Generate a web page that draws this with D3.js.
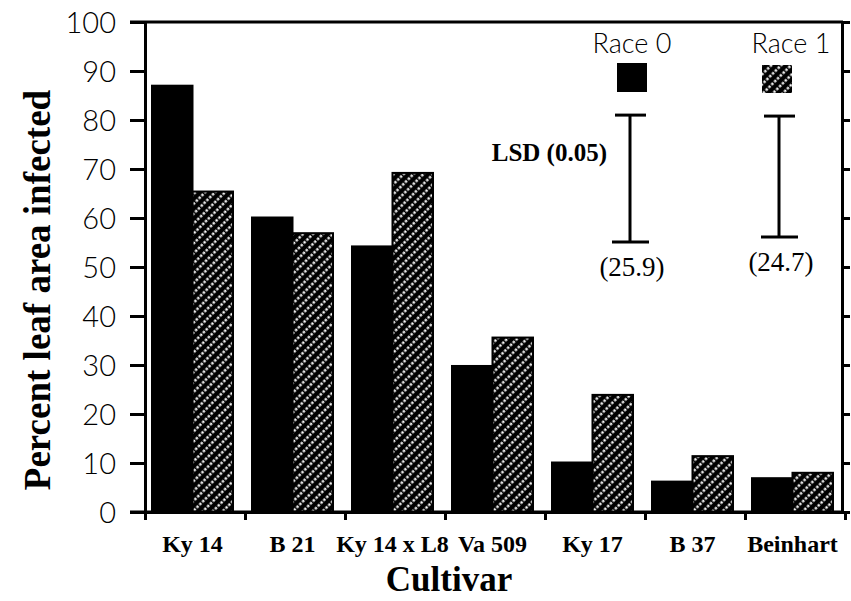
<!DOCTYPE html>
<html>
<head>
<meta charset="utf-8">
<script src="https://cdn.jsdelivr.net/npm/d3@7"></script>
<style>
  body { margin: 0; background: #fff; }
  svg { display: block; }
</style>
</head>
<body>
<div id="chart"></div>
<script>
// data
var cultivars = ["Ky 14", "B 21", "Ky 14 x L8", "Va 509", "Ky 17", "B 37", "Beinhart"];
var races = ["Race 0", "Race 1"];
var race0 = [87.0, 60.1, 54.2, 29.8, 10.1, 6.2, 6.9];
var race1 = [65.4, 56.9, 69.2, 35.6, 23.9, 11.4, 8.0];
var lsd = [25.9, 24.7];
var lsdTop = [81.0, 80.8];
var yTicks = [0, 10, 20, 30, 40, 50, 60, 70, 80, 90, 100];

var W = 851, H = 601;

var svg = d3.select("#chart")
  .append("svg")
  .attr("width", W)
  .attr("height", H);

// hatch fill: black with white dotted diagonals
var defs = svg.append("defs");
var pat = defs.append("pattern")
  .attr("id", "hatch")
  .attr("patternUnits", "userSpaceOnUse")
  .attr("width", 7)
  .attr("height", 8)
  .attr("patternTransform", "rotate(45)");
pat.append("rect").attr("width", 7).attr("height", 8).attr("fill", "#000");
pat.append("line")
  .attr("x1", 3.5).attr("y1", 0).attr("x2", 3.5).attr("y2", 8)
  .attr("stroke", "#fff")
  .attr("stroke-width", 2.3)
  .attr("stroke-dasharray", "2.4,1.6");

var y = d3.scaleLinear().domain([0, 100]).range([512, 22]);
var x = d3.scaleBand().domain(cultivars).range([145, 845]).padding(0);
var xs = d3.scaleBand().domain(races).range([7, 88]).padding(0);
var xEdge = d3.scaleLinear().domain([0, cultivars.length]).range([145, 845]);

var fills = ["#000", "url(#hatch)"];

// bars
var rows = cultivars.map(function(c, i) {
  return { cultivar: c, values: [race0[i], race1[i]] };
});

var groups = svg.selectAll("g.grp")
  .data(rows)
  .enter().append("g")
  .attr("class", "grp")
  .attr("transform", function(d) { return "translate(" + x(d.cultivar) + ",0)"; });

groups.selectAll("rect")
  .data(function(d) { return d.values.map(function(v, j) { return { race: races[j], v: v, j: j }; }); })
  .enter().append("rect")
  .attr("x", function(d) { return xs(d.race); })
  .attr("width", xs.bandwidth())
  .attr("y", function(d) { return y(d.v); })
  .attr("height", function(d) { return y(0) - y(d.v); })
  .attr("fill", function(d) { return fills[d.j]; })
  .attr("stroke", "#000")
  .attr("stroke-width", 2);

// left axis
var left = svg.append("g")
  .attr("transform", "translate(145,0)")
  .call(d3.axisLeft(y).tickValues(yTicks).tickSize(15).tickSizeOuter(0).tickPadding(14));
left.selectAll("text")
  .style("font-family", "Lato, 'DejaVu Sans', sans-serif")
  .style("font-weight", 300)
  .style("font-size", "29px")
  .attr("dy", "0.36em")
  .attr("fill", "#000");

// right axis
svg.append("g")
  .attr("transform", "translate(842,0)")
  .call(d3.axisRight(y).tickValues(yTicks).tickSize(8).tickSizeOuter(0).tickFormat(""));

// bottom axis (ticks at cultivar boundaries)
svg.append("g")
  .attr("transform", "translate(0,512)")
  .call(d3.axisBottom(xEdge).ticks(cultivars.length).tickSize(8).tickSizeOuter(0).tickFormat(""));

svg.selectAll(".domain, .tick line")
  .attr("stroke", "#000")
  .attr("stroke-width", 3);

// top and bottom border
svg.append("line")
  .attr("x1", 130).attr("x2", 843)
  .attr("y1", y(100)).attr("y2", y(100))
  .attr("stroke", "#000").attr("stroke-width", 3);
svg.append("line")
  .attr("x1", 130).attr("x2", 843)
  .attr("y1", y(0)).attr("y2", y(0))
  .attr("stroke", "#000").attr("stroke-width", 3);

// category labels
svg.selectAll("text.cat")
  .data(cultivars)
  .enter().append("text")
  .attr("class", "cat")
  .attr("x", function(c) { return x(c) + (xs.range()[0] + xs.range()[1]) / 2; })
  .attr("y", 552)
  .attr("text-anchor", "middle")
  .style("font-family", "'Liberation Serif', 'Times New Roman', serif")
  .style("font-weight", "bold")
  .style("font-size", "24px")
  .text(function(c) { return c; });

// axis titles
svg.append("text")
  .attr("x", 449).attr("y", 591)
  .attr("text-anchor", "middle")
  .style("font-family", "'Liberation Serif', 'Times New Roman', serif")
  .style("font-weight", "bold")
  .style("font-size", "35px")
  .text("Cultivar");

svg.append("text")
  .attr("transform", "translate(50,290) rotate(-90)")
  .attr("text-anchor", "middle")
  .style("font-family", "'Liberation Serif', 'Times New Roman', serif")
  .style("font-weight", "bold")
  .style("font-size", "37px")
  .text("Percent leaf area infected");

// legend
var legX = [632, 791];
var legSq = [[617, 63], [762, 65]];
races.forEach(function(r, i) {
  svg.append("text")
    .attr("x", legX[i]).attr("y", 53)
    .attr("text-anchor", "middle")
    .style("font-family", "Lato, 'DejaVu Sans', sans-serif")
    .style("font-weight", 300)
    .style("font-size", "27px")
    .text(r);
  svg.append("rect")
    .attr("x", legSq[i][0]).attr("y", legSq[i][1])
    .attr("width", 30).attr("height", 29 - i)
    .attr("fill", fills[i]);
});

// LSD bars
var lsdX = [630, 779];
lsd.forEach(function(v, i) {
  var top = y(lsdTop[i]), bot = y(lsdTop[i] - v);
  var g = svg.append("g").attr("stroke", "#000").attr("stroke-width", 3);
  g.append("line").attr("x1", lsdX[i]).attr("x2", lsdX[i]).attr("y1", top).attr("y2", bot);
  g.append("line").attr("x1", lsdX[i] - 15).attr("x2", lsdX[i] + 16).attr("y1", top).attr("y2", top);
  g.append("line").attr("x1", lsdX[i] - 18).attr("x2", lsdX[i] + 19).attr("y1", bot).attr("y2", bot);
  svg.append("text")
    .attr("x", lsdX[i] + 2).attr("y", bot + 34)
    .attr("text-anchor", "middle")
    .style("font-family", "'Liberation Serif', 'Times New Roman', serif")
    .style("font-size", "27px")
    .text("(" + v + ")");
});

svg.append("text")
  .attr("x", 607).attr("y", 161)
  .attr("text-anchor", "end")
  .style("font-family", "'Liberation Serif', 'Times New Roman', serif")
  .style("font-weight", "bold")
  .style("font-size", "25px")
  .text("LSD (0.05)");
</script>
</body>
</html>
